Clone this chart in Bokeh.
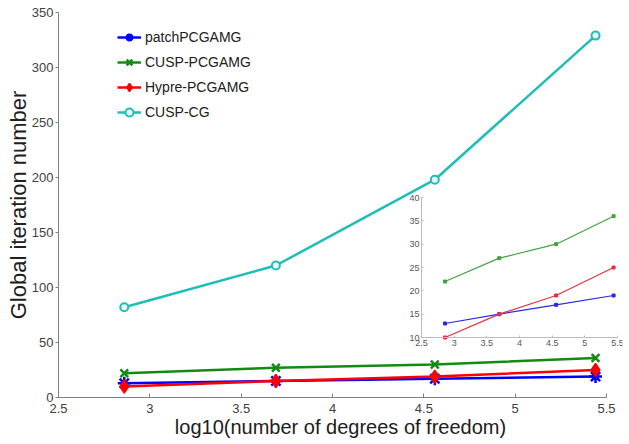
from bokeh.plotting import figure
from bokeh.models import (Range1d, LinearAxis, FixedTicker, Legend, LegendItem)
from bokeh.embed import file_html
from bokeh.resources import INLINE

# ---- data ----
log_dofs = [2.86, 3.69, 4.56, 5.44]
patch_pcgamg = [13, 15, 17, 19]
cusp_pcgamg = [22, 27, 30, 36]
hypre_pcgamg = [10, 15, 19, 25]
cusp_cg = [82, 120, 198, 329]

x_ticks = [2.5, 3, 3.5, 4, 4.5, 5, 5.5]
x_tick_labels = ["2.5", "3", "3.5", "4", "4.5", "5", "5.5"]
y_ticks = [0, 50, 100, 150, 200, 250, 300, 350]
inset_y_ticks = [10, 15, 20, 25, 30, 35, 40]

FONT = "Liberation Sans"

# main frame: 2.5..5.5 over 548 px, frame 564 px wide
x_end = 2.5 + 564 / (548 / 3.0)
p = figure(width=629, height=444, output_backend="svg", toolbar_location=None,
           x_range=Range1d(2.5, x_end), y_range=Range1d(0, 350),
           min_border_left=58, min_border_right=7, min_border_top=12,
           min_border_bottom=47, x_axis_location=None, y_axis_location=None)
p.outline_line_color = None
p.xgrid.visible = False
p.ygrid.visible = False

xlabels = {float(t): s for t, s in zip(x_ticks, x_tick_labels)}
xlabels.update({int(t): s for t, s in zip(x_ticks, x_tick_labels) if float(t).is_integer()})

xaxis = LinearAxis(ticker=FixedTicker(ticks=x_ticks), bounds=(2.5, 5.5),
                   axis_label="log10(number of degrees of freedom)")
xaxis.major_label_overrides = xlabels
yaxis = LinearAxis(ticker=FixedTicker(ticks=y_ticks), axis_label="Global iteration number")
for ax in (xaxis, yaxis):
    ax.axis_line_color = "#808080"
    ax.major_tick_line_color = "#808080"
    ax.minor_tick_line_color = None
    ax.major_label_text_font = FONT
    ax.major_label_text_font_size = "13px"
    ax.major_label_text_color = "#404040"
    ax.axis_label_text_font = FONT
    ax.axis_label_text_font_style = "normal"
    ax.axis_label_text_color = "#202020"
xaxis.major_tick_in = 4
xaxis.major_tick_out = 0
xaxis.major_label_standoff = 6
xaxis.axis_label_standoff = 0
xaxis.axis_label_text_font_size = "20px"
yaxis.major_tick_in = 0
yaxis.major_tick_out = 3
yaxis.major_label_standoff = 2
yaxis.axis_label_standoff = -2
yaxis.axis_label_text_font_size = "22px"
p.add_layout(xaxis, "below")
p.add_layout(yaxis, "left")

# ---- main series ----
c_blue, c_green, c_red, c_cyan = "#0000ff", "#138a13", "#ff0000", "#1fbdb8"
l1 = p.line(log_dofs, patch_pcgamg, color=c_blue, line_width=2.5)
m1 = p.scatter(log_dofs, patch_pcgamg, marker="asterisk", size=13, line_color=c_blue, line_width=2.5)
l2 = p.line(log_dofs, cusp_pcgamg, color=c_green, line_width=2.5)
m2 = p.scatter(log_dofs, cusp_pcgamg, marker="x", size=11, line_color=c_green, line_width=2.5)
l3 = p.line(log_dofs, hypre_pcgamg, color=c_red, line_width=2.5)
m3 = p.scatter(log_dofs, hypre_pcgamg, marker="diamond", size=13, line_color=c_red,
               fill_color=c_red, line_width=1.5)
l4 = p.line(log_dofs, cusp_cg, color=c_cyan, line_width=2.5)
m4 = p.scatter(log_dofs, cusp_cg, marker="circle", size=8, line_color=c_cyan,
               fill_color="#e8fbfa", line_width=2)

legend = Legend(items=[
    LegendItem(label="patchPCGAMG", renderers=[l1, m1]),
    LegendItem(label="CUSP-PCGAMG", renderers=[l2, m2]),
    LegendItem(label="Hypre-PCGAMG", renderers=[l3, m3]),
    LegendItem(label="CUSP-CG", renderers=[l4, m4]),
], location=(59, 275), padding=0, margin=0, spacing=5, glyph_width=24, glyph_height=20,
    label_standoff=4, label_text_font=FONT, label_text_font_size="14px",
    label_text_color="#202020", border_line_color=None, background_fill_alpha=0)
p.add_layout(legend, "center")

# ---- inset (own ranges) ----
ipx = 196 / 3.0      # px per unit in inset x
ipy = 140 / 30.0     # px per unit in inset y
ix_start = 2.5 - (421 - 58) / ipx
ix_end = 5.5 + (622 - 617) / ipx
iy_start = 10 - (397 - 337) / ipy
iy_end = 40 + (197 - 12) / ipy
p.extra_x_ranges = {"ix": Range1d(ix_start, ix_end)}
p.extra_y_ranges = {"iy": Range1d(iy_start, iy_end)}

ixaxis = LinearAxis(x_range_name="ix", y_range_name="iy", fixed_location=10,
                    bounds=(2.5, 5.5), ticker=FixedTicker(ticks=x_ticks))
ixaxis.major_label_overrides = xlabels
iyaxis = LinearAxis(x_range_name="ix", y_range_name="iy", fixed_location=2.5,
                    bounds=(10, 40), ticker=FixedTicker(ticks=inset_y_ticks))
for ax in (ixaxis, iyaxis):
    ax.axis_line_color = "#bcbcbc"
    ax.major_tick_line_color = "#bcbcbc"
    ax.minor_tick_line_color = None
    ax.major_tick_in = 2
    ax.major_tick_out = 0
    ax.major_label_standoff = 2
    ax.major_label_text_font = FONT
    ax.major_label_text_font_size = "9px"
    ax.major_label_text_color = "#555555"
p.add_layout(ixaxis, "below")
p.add_layout(iyaxis, "left")

ic_blue, ic_green, ic_red = "#2a2ae0", "#45a045", "#e0303f"
for ys, col in ((patch_pcgamg, ic_blue), (cusp_pcgamg, ic_green), (hypre_pcgamg, ic_red)):
    p.line(log_dofs, ys, color=col, line_width=1.2, x_range_name="ix", y_range_name="iy")
    p.scatter(log_dofs, ys, marker="square", size=3, color=col,
              x_range_name="ix", y_range_name="iy")

open("out.html", "w").write(file_html(p, INLINE))
